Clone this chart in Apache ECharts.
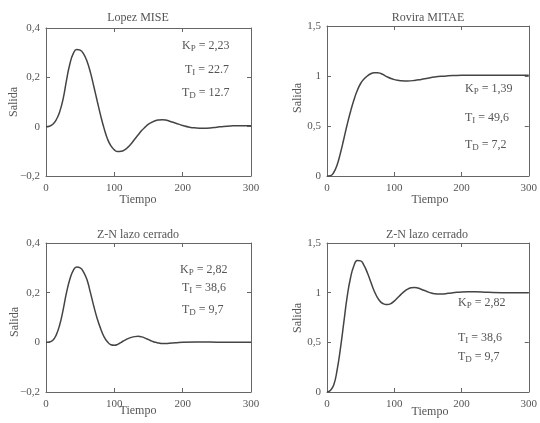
<!DOCTYPE html>
<html><head><meta charset="utf-8">
<script src="https://cdn.jsdelivr.net/npm/echarts@6/dist/echarts.min.js"></script>
<style>html,body{margin:0;padding:0;background:#fff}#c{width:540px;height:423px}</style>
</head><body><div id="c"></div>
<script>
// ---- data ----
const titles = ["Lopez MISE", "Rovira MITAE", "Z-N lazo cerrado", "Z-N lazo cerrado"];
const xTicks = [0, 100, 200, 300];
const yTicksDist = [-0.2, 0, 0.2, 0.4];
const yTicksStep = [0, 0.5, 1, 1.5];

const tLopez = [0,5,10,15,20,25,30,35,40,45,50,55,60,65,70,75,80,85,90,95,100,105,110,115,120,125,130,135,140,145,150,155,160,165,170,175,180,190,200,210,220,230,240,250,260,270,280,290,300];
const yLopez = [0,0.002,0.01,0.028,0.06,0.112,0.188,0.255,0.297,0.313,0.31,0.295,0.265,0.22,0.163,0.103,0.045,-0.007,-0.05,-0.078,-0.094,-0.101,-0.1,-0.094,-0.083,-0.068,-0.05,-0.033,-0.016,-0.002,0.01,0.018,0.024,0.027,0.028,0.027,0.023,0.014,0.005,-0.002,-0.005,-0.006,-0.005,-0.002,0.001,0.003,0.004,0.004,0.004];

const tRovira = [0,5,10,15,20,25,30,35,40,45,50,55,60,65,70,75,80,85,90,95,100,105,110,115,120,130,140,150,160,170,180,190,200,220,240,260,280,300];
const yRovira = [0,0.003,0.035,0.11,0.23,0.37,0.515,0.645,0.76,0.855,0.925,0.97,1.0,1.022,1.032,1.033,1.025,1.008,0.99,0.975,0.964,0.957,0.953,0.951,0.951,0.956,0.966,0.978,0.989,0.997,1.002,1.005,1.007,1.008,1.008,1.008,1.008,1.008];

const tZNdist = [0,5,10,15,20,25,30,35,40,45,50,55,60,65,70,75,80,85,90,95,100,105,110,115,120,125,130,135,140,145,150,155,160,165,170,175,180,190,200,220,240,260,300];
const yZNdist = [0,0.001,0.008,0.03,0.07,0.13,0.2,0.255,0.29,0.303,0.3,0.283,0.252,0.2,0.145,0.095,0.055,0.022,0.002,-0.01,-0.012,-0.008,0,0.008,0.015,0.02,0.023,0.024,0.022,0.017,0.011,0.005,0,-0.003,-0.005,-0.005,-0.004,-0.002,0,0.001,0.001,0,0];

const tZNstep = [0,5,10,15,20,25,30,35,40,45,50,55,60,65,70,75,80,85,90,95,100,105,110,115,120,125,130,135,140,145,150,155,160,165,170,180,190,200,210,220,240,260,300];
const yZNstep = [0,0.015,0.07,0.22,0.44,0.7,0.96,1.15,1.27,1.325,1.32,1.275,1.2,1.11,1.02,0.95,0.905,0.885,0.88,0.89,0.915,0.948,0.983,1.013,1.036,1.049,1.053,1.047,1.035,1.022,1.008,0.997,0.99,0.987,0.987,0.993,1.001,1.007,1.009,1.008,1.003,1.0,1.0];

const params = [["K","P","2,23"],["T","I","22.7"],["T","D","12.7"]];
const params2 = [["K","P","1,39"],["T","I","49,6"],["T","D","7,2"]];
const params3 = [["K","P","2,82"],["T","I","38,6"],["T","D","9,7"]];
const params4 = [["K","P","2,82"],["T","I","38,6"],["T","D","9,7"]];

// ---- layout ----
const FONT = "Liberation Serif";
const TXT = "#555";
const grids = [
  {left:46, top:28, width:205, height:148},
  {left:327, top:26, width:204, height:150},
  {left:46, top:243, width:205, height:149},
  {left:327, top:243, width:205, height:149}
];
const yRanges = [[-0.2,0.4,0.2],[0,1.5,0.5],[-0.2,0.4,0.2],[0,1.5,0.5]];
const seriesT = [tLopez, tRovira, tZNdist, tZNstep];
const seriesY = [yLopez, yRovira, yZNdist, yZNstep];

const fmtY = v => (v < 0 ? "\u2212" : "") + String(Math.abs(Math.round(v*10)/10)).replace(".", ",");

const xAxis = [], yAxis = [], series = [];
grids.forEach((g, i) => {
  const common = {gridIndex:i, type:'value', splitLine:{show:false},
    axisLine:{show:true, onZero:false, lineStyle:{color:'#666', width:1}},
    axisTick:{show:true, inside:true, length:4, lineStyle:{color:'#666'}}};
  xAxis.push(Object.assign({}, common, {position:'bottom', min:0, max:300, interval:100,
    axisLabel:{color:TXT, fontFamily:FONT, fontSize:11, margin:7}}));
  xAxis.push(Object.assign({}, common, {position:'top', min:0, max:300, interval:100, axisLabel:{show:false}}));
  const r = yRanges[i];
  yAxis.push(Object.assign({}, common, {position:'left', min:r[0], max:r[1], interval:r[2],
    axisLabel:{color:TXT, fontFamily:FONT, fontSize:11, margin:6, formatter:fmtY}}));
  yAxis.push(Object.assign({}, common, {position:'right', min:r[0], max:r[1], interval:r[2], axisLabel:{show:false}}));
  series.push({type:'line', xAxisIndex:2*i, yAxisIndex:2*i, smooth:0.5, showSymbol:false, silent:true,
    lineStyle:{color:'#444', width:1.5},
    data: seriesT[i].map((t,k)=>[t, seriesY[i][k]])});
});

const graphic = [];
const titlePos = [[138,18],[428,18],[138,235],[427,235]];
titles.forEach((t,i)=>graphic.push({type:'text', x:titlePos[i][0], y:titlePos[i][1],
  style:{text:t, fill:TXT, font:'12px "'+FONT+'"', textAlign:'center', textVerticalAlign:'middle'}}));
const tiempoPos = [[138,200],[430,200],[138,411],[430,412]];
tiempoPos.forEach(p=>graphic.push({type:'text', x:p[0], y:p[1],
  style:{text:'Tiempo', fill:TXT, font:'12px "'+FONT+'"', textAlign:'center', textVerticalAlign:'middle'}}));
const salidaPos = [[14,102],[298,98],[15,322],[298,318]];
salidaPos.forEach(p=>graphic.push({type:'text', x:p[0], y:p[1], rotation:Math.PI/2,
  style:{text:'Salida', fill:TXT, font:'12px "'+FONT+'"', textAlign:'center', textVerticalAlign:'middle'}}));

const annot = [
  {p:params, x:[182,185,182], y:[46,70,93]},
  {p:params2, x:[465,465,465], y:[89,118,145]},
  {p:params3, x:[180,182,182], y:[270,288,310]},
  {p:params4, x:[458,458,458], y:[303,338,357]}
];
annot.forEach(a=>a.p.forEach((q,k)=>graphic.push({type:'text', x:a.x[k], y:a.y[k],
  style:{text:'{m|'+q[0]+'}{s|'+q[1]+'}{m| = '+q[2]+'}',
    textVerticalAlign:'middle',
    rich:{m:{fontFamily:FONT, fontSize:12, fill:TXT, color:TXT},
          s:{fontFamily:FONT, fontSize:9, fill:TXT, color:TXT, padding:[6,0,0,0]}}}})));

const chart = echarts.init(document.getElementById('c'), null, {renderer:'canvas'});
chart.setOption({backgroundColor:'#fff', animation:false, grid:grids, xAxis, yAxis, series, graphic});
</script></body></html>
